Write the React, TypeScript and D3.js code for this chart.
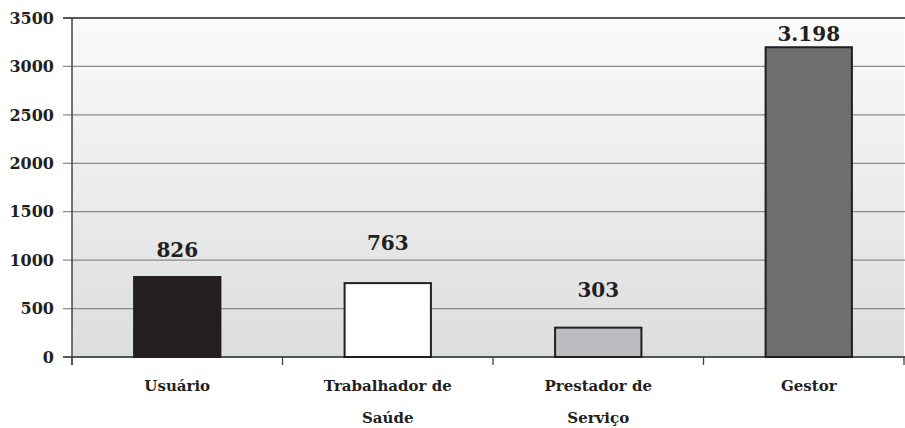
import React from "react";
import * as d3 from "d3";

const categories: string[][] = [["Usuário"], ["Trabalhador de", "Saúde"], ["Prestador de", "Serviço"], ["Gestor"]];
const values: number[] = [826, 763, 303, 3198];
const valueLabels: string[] = ["826", "763", "303", "3.198"];
const barColors: string[] = ["#231f20", "#ffffff", "#bcbdc0", "#6d6e70"];
const yTicks: number[] = [0, 500, 1000, 1500, 2000, 2500, 3000, 3500];
const labelLift: number[] = [20, 33, 31, 6];

const W = 905;
const H = 428;
const M = { left: 72, top: 18, bottom: 71 };
const PLOT_RIGHT = 904;
const BAND_RIGHT = 914;

export default function App() {
  const x = d3
    .scaleBand<number>()
    .domain(d3.range(values.length))
    .range([M.left, BAND_RIGHT])
    .paddingInner(0.59)
    .paddingOuter(0.295);
  const y = d3.scaleLinear().domain([0, 3500]).range([H - M.bottom, M.top]);
  const step = x.step();
  const font = "'DejaVu Serif', serif";
  const y0 = y(0);
  return (
    <svg width={W} height={H} style={{ position: "absolute", left: 0, top: 0 }}>
      <defs>
        <linearGradient id="bg" x1="0" y1="0" x2="0" y2="1">
          <stop offset="0%" stopColor="#fafafa" />
          <stop offset="100%" stopColor="#dcdddd" />
        </linearGradient>
      </defs>
      <rect x={M.left} y={M.top} width={PLOT_RIGHT - M.left} height={y0 - M.top} fill="url(#bg)" />
      {yTicks.map((t) => (
        <g key={t}>
          <line
            x1={M.left - 9}
            x2={W}
            y1={y(t)}
            y2={y(t)}
            stroke={t === 0 || t === 3500 ? "#222" : "#8a8a8a"}
            strokeWidth={t === 0 ? 1.6 : 1.3}
          />
          <text
            x={M.left - 18}
            y={y(t)}
            dy="0.36em"
            textAnchor="end"
            fontFamily={font}
            fontWeight="bold"
            fontSize={16}
            fill="#231f20"
          >
            {t}
          </text>
        </g>
      ))}
      <line x1={M.left} x2={M.left} y1={M.top} y2={y0 + 8} stroke="#444" strokeWidth={1.5} />
      {d3.range(values.length + 1).map((i) => {
        const xx = Math.min(M.left + i * step, PLOT_RIGHT);
        return <line key={i} x1={xx} x2={xx} y1={y0} y2={y0 + 8} stroke="#444" strokeWidth={1.3} />;
      })}
      {values.map((v, i) => (
        <g key={i}>
          <rect
            x={x(i)!}
            y={y(v)}
            width={x.bandwidth()}
            height={y0 - y(v)}
            fill={barColors[i]}
            stroke="#231f20"
            strokeWidth={2}
          />
          <text
            x={x(i)! + x.bandwidth() / 2}
            y={y(v) - labelLift[i]}
            textAnchor="middle"
            fontFamily={font}
            fontWeight="bold"
            fontSize={20}
            fill="#231f20"
          >
            {valueLabels[i]}
          </text>
          {categories[i].map((line, j) => (
            <text
              key={j}
              x={x(i)! + x.bandwidth() / 2}
              y={391 + j * 32}
              textAnchor="middle"
              fontFamily={font}
              fontWeight="bold"
              fontSize={15}
              fill="#231f20"
            >
              {line}
            </text>
          ))}
        </g>
      ))}
    </svg>
  );
}
